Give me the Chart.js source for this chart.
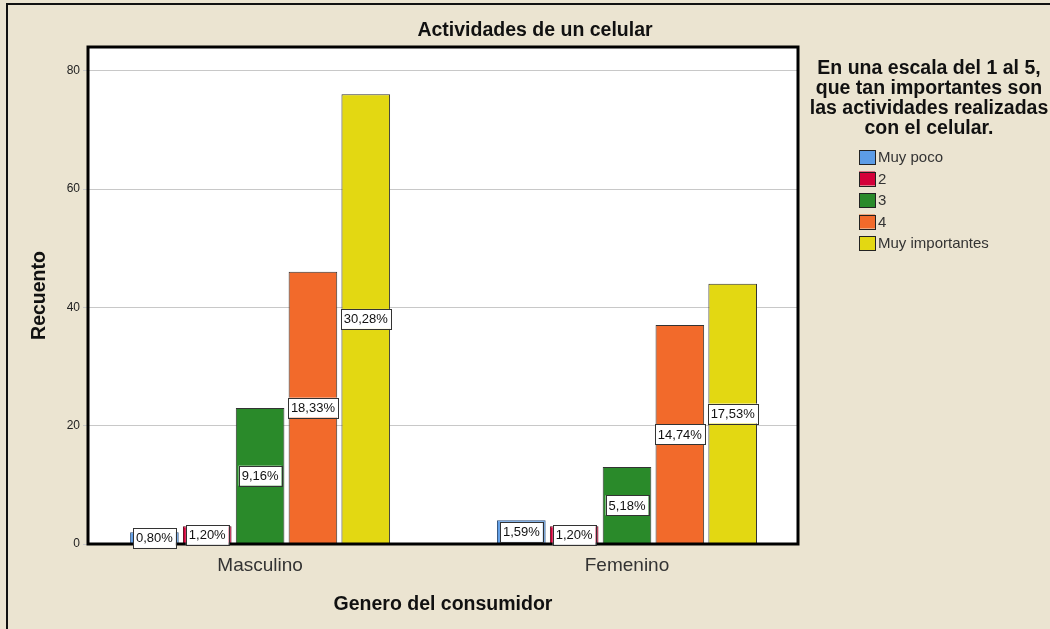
<!DOCTYPE html>
<html>
<head>
<meta charset="utf-8">
<script src="https://cdn.jsdelivr.net/npm/chart.js@4.4.1/dist/chart.umd.min.js"></script>
<style>
  body { margin: 0; background: #ebe4d1; }
  canvas { display: block; }
</style>
</head>
<body>
<canvas id="chart-bar" width="1050" height="629"></canvas>
<script>
// datos
const categorias = ['Masculino', 'Femenino'];
const niveles = ['Muy poco', '2', '3', '4', 'Muy importantes'];
const muyPoco = [2, 4];
const nivel2 = [3, 3];
const nivel3 = [23, 13];
const nivel4 = [46, 37];
const muyImportantes = [76, 44];
const pctMuyPoco = [0.80, 1.59];
const pctNivel2 = [1.20, 1.20];
const pctNivel3 = [9.16, 5.18];
const pctNivel4 = [18.33, 14.74];
const pctMuyImportantes = [30.28, 17.53];
const yTicks = [0, 20, 40, 60, 80];

const COLORS = ['#5c9ce6', '#d4003a', '#2a8a2a', '#f26a2b', '#e3d812'];
const BORDERS = ['#2e4f7a', '#5a0a1a', '#333333', '#333333', '#333333'];
const valores = [muyPoco, nivel2, nivel3, nivel4, muyImportantes];
const porcentajes = [pctMuyPoco, pctNivel2, pctNivel3, pctNivel4, pctMuyImportantes];
const legendTitle = ['En una escala del 1 al 5,', 'que tan importantes son', 'las actividades realizadas', 'con el celular.'];

const pluginBackground = {
    id: 'fondo',
    beforeDraw: (chart) => {
        const {ctx, chartArea: {left, top, width, height}} = chart;
        ctx.save();
        ctx.fillStyle = '#ebe4d1';
        ctx.fillRect(0, 0, chart.width, chart.height);
        ctx.fillStyle = '#ffffff';
        ctx.fillRect(left, top, width, height);
        // marco exterior
        ctx.strokeStyle = '#111111';
        ctx.lineWidth = 2;
        ctx.beginPath();
        ctx.moveTo(7, chart.height);
        ctx.lineTo(7, 4);
        ctx.lineTo(chart.width, 4);
        ctx.stroke();
        ctx.restore();
    }
};

const pluginLabels = {
    id: 'etiquetas',
    afterDatasetsDraw: (chart) => {
        const {ctx, chartArea: {left, top, width, height}} = chart;
        ctx.save();
        ctx.strokeStyle = '#000000';
        ctx.lineWidth = 3;
        ctx.strokeRect(left, top, width, height);
        ctx.font = '13px "Liberation Sans", Arial, sans-serif';
        ctx.textAlign = 'center';
        ctx.textBaseline = 'middle';
        chart.data.datasets.forEach((ds, d) => {
            const meta = chart.getDatasetMeta(d);
            meta.data.forEach((bar, i) => {
                const txt = porcentajes[d][i].toFixed(2).replace('.', ',') + '%';
                const w = ctx.measureText(txt).width + 6;
                const y = (bar.y + bar.base) / 2;
                ctx.fillStyle = '#ffffff';
                ctx.fillRect(bar.x - w / 2, y - 10, w, 20);
                ctx.strokeStyle = '#333333';
                ctx.lineWidth = 1;
                ctx.strokeRect(Math.round(bar.x - w / 2) + 0.5, Math.round(y - 10) + 0.5, Math.round(w), 20);
                ctx.fillStyle = '#111111';
                ctx.fillText(txt, bar.x, y + 1);
            });
        });
        ctx.restore();
    }
};

const pluginLegend = {
    id: 'leyenda',
    afterDraw: (chart) => {
        const ctx = chart.ctx;
        ctx.save();
        ctx.fillStyle = '#111111';
        ctx.textAlign = 'center';
        ctx.textBaseline = 'middle';
        ctx.font = 'bold 19.5px "Liberation Sans", Arial, sans-serif';
        legendTitle.forEach((line, i) => {
            ctx.fillText(line, 929, 69 + i * 20);
        });
        ctx.textAlign = 'left';
        ctx.font = '15px "Liberation Sans", Arial, sans-serif';
        chart.data.datasets.forEach((ds, i) => {
            const y = 157 + i * 21.5;
            ctx.fillStyle = ds.backgroundColor;
            ctx.fillRect(859, y - 7, 16, 14);
            ctx.strokeStyle = '#222222';
            ctx.lineWidth = 1;
            ctx.strokeRect(859.5, Math.round(y - 7) + 0.5, 16, 14);
            ctx.fillStyle = '#333333';
            ctx.fillText(ds.label, 878, y + 1);
        });
        ctx.restore();
    }
};

var ctx = document.getElementById('chart-bar');
var myChart = new Chart(ctx, {
    type: 'bar',
    data: {
        datasets: niveles.map(function(n, i) {
            return {
                label: n,
                data: valores[i].map((v, j) => ({x: j, y: v})),
                backgroundColor: COLORS[i],
                borderColor: BORDERS[i],
                borderWidth: 1,
                categoryPercentage: 0.72,
                barPercentage: 0.92,
            };
        }),
    },
    options: {
        responsive: false,
        animation: false,
        layout: {
            padding: {left: 20, right: 0, top: 0, bottom: 0}
        },
        scales: {
            x: {
                type: 'linear',
                offset: false,
                min: -0.469,
                max: 1.466,
                afterBuildTicks: (scale) => { scale.ticks = categorias.map((c, i) => ({value: i})); },
                grid: {display: false, drawTicks: false},
                border: {display: false},
                ticks: {
                    color: '#333333',
                    padding: 10,
                    callback: (v) => categorias[v],
                    font: {family: '"Liberation Sans", Arial, sans-serif', size: 19},
                },
                title: {
                    display: true,
                    text: 'Genero del consumidor',
                    color: '#111111',
                    padding: {top: 0, bottom: 13},
                    font: {family: '"Liberation Sans", Arial, sans-serif', size: 19.5, weight: 'bold'},
                },
                afterFit: (scale) => { scale.height = 85; },
            },
            y: {
                min: 0,
                max: 84,
                afterBuildTicks: (scale) => { scale.ticks = yTicks.map(v => ({value: v})); },
                grid: {color: '#c8c8c8', tickLength: 5},
                border: {display: false},
                ticks: {
                    color: '#222222',
                    padding: 3,
                    font: {family: '"Liberation Sans Narrow", "Liberation Sans", Arial, sans-serif', size: 12},
                },
                title: {
                    display: true,
                    text: 'Recuento',
                    color: '#111111',
                    padding: {top: 8, bottom: 0},
                    font: {family: '"Liberation Sans", Arial, sans-serif', size: 19.5, weight: 'bold'},
                },
                afterFit: (scale) => { scale.width = 68; },
            },
            espacio: {
                type: 'linear',
                position: 'right',
                display: true,
                grid: {display: false, drawTicks: false},
                border: {display: false},
                ticks: {display: false},
                afterFit: (scale) => { scale.width = 252; },
            },
        },
        plugins: {
            legend: {display: false},
            tooltip: {enabled: false},
            title: {
                display: true,
                text: 'Actividades de un celular',
                color: '#111111',
                padding: {top: 19, bottom: 4.6},
                font: {family: '"Liberation Sans", Arial, sans-serif', size: 19.5, weight: 'bold'},
            },
        },
    },
    plugins: [pluginBackground, pluginLabels, pluginLegend],
});
</script>
</body>
</html>
